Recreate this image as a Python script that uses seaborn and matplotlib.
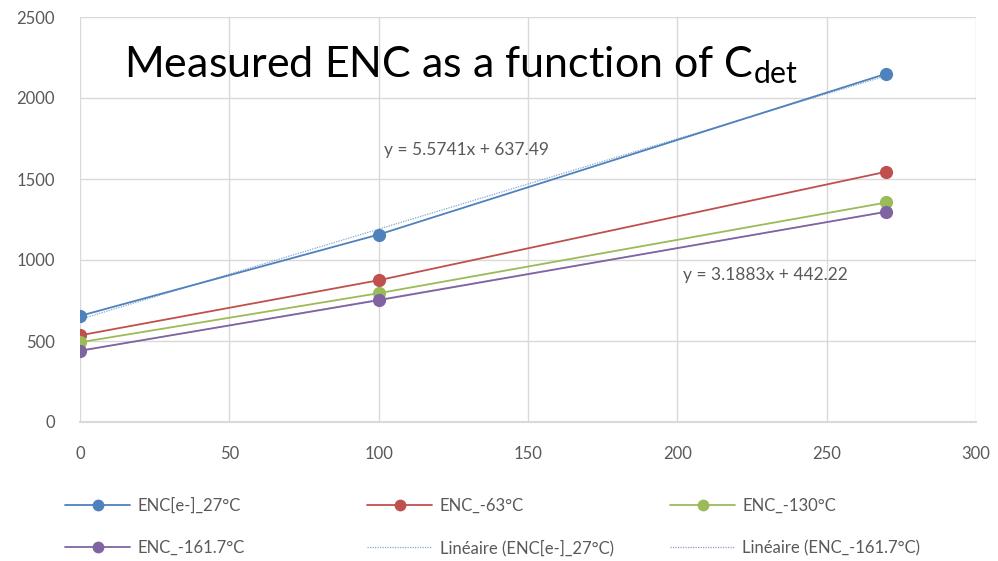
import numpy as np
import pandas as pd
import matplotlib
matplotlib.use("Agg")
import matplotlib.pyplot as plt
import seaborn as sns
from matplotlib.lines import Line2D

# ---- data ----
x_cdet = [0, 100, 270]
enc_27 = [655, 1157, 2150]
enc_m63 = [535, 875, 1545]
enc_m130 = [492, 795, 1355]
enc_m161 = [440, 752, 1298]
series_names = ["ENC[e-]_27°C", "ENC_-63°C", "ENC_-130°C", "ENC_-161.7°C"]
trend_names = ["Linéaire (ENC[e-]_27°C)", "Linéaire (ENC_-161.7°C)"]
eq_27 = "y = 5.5741x + 637.49"
eq_161 = "y = 3.1883x + 442.22"
x_ticks = [0, 50, 100, 150, 200, 250, 300]
y_ticks = [0, 500, 1000, 1500, 2000, 2500]
title_text = "Measured ENC as a function of C$_{\\mathrm{det}}$"

colors = ["#4F81BD", "#C0504D", "#9BBB59", "#8064A2"]
gray_txt = "#595959"

sns.set_theme(style="white")
plt.rcParams['font.family'] = ['Lato', 'DejaVu Sans']
plt.rcParams['mathtext.fontset'] = 'custom'
plt.rcParams['mathtext.rm'] = 'Lato'
plt.rcParams['mathtext.it'] = 'Lato'

df = pd.DataFrame({
    "x": x_cdet * 4,
    "y": enc_27 + enc_m63 + enc_m130 + enc_m161,
    "series": sum([[n] * len(x_cdet) for n in series_names], []),
})

fig = plt.figure(figsize=(9.98, 5.61), dpi=100)
ax = fig.add_axes([80 / 998, 1 - 422 / 561, (976 - 80) / 998, (422 - 17) / 561])

sns.lineplot(data=df, x="x", y="y", hue="series", hue_order=series_names,
             palette=colors, marker="o", markersize=9.5, markeredgewidth=0,
             linewidth=1.3, ax=ax, legend=False, sort=False)

# linear trendlines (dotted)
dot_style = dict(linestyle=(0, (1, 1)), linewidth=0.9, alpha=0.7)
for yv, c in [(enc_27, colors[0]), (enc_m161, colors[3])]:
    sns.regplot(x=np.array(x_cdet), y=np.array(yv), ci=None, scatter=False, ax=ax,
                line_kws=dict(color=c, **dot_style))

ax.set_xlim(0, 300)
ax.set_ylim(0, 2500)
ax.set_xticks(x_ticks)
ax.set_yticks(y_ticks)
ax.set_xlabel("")
ax.set_ylabel("")
ax.grid(True, color="#D9D9D9", linewidth=1)
ax.set_axisbelow(True)
for s in ["top", "right", "left"]:
    ax.spines[s].set_visible(False)
ax.spines["bottom"].set_color("#D9D9D9")
ax.spines["bottom"].set_linewidth(1.5)
ax.tick_params(axis="both", labelsize=12, colors=gray_txt, length=0)
ax.tick_params(axis="y", pad=18)
ax.tick_params(axis="x", pad=17)

# equations
fig.text(467 / 998, 1 - 150 / 561, eq_27, fontsize=12.5, color=gray_txt,
         ha="center", va="center")
fig.text(765 / 998, 1 - 275 / 561, eq_161, fontsize=12.5, color=gray_txt,
         ha="center", va="center")

# title
fig.text(461 / 998, 1 - 77 / 561, title_text, fontsize=31, color="black",
         ha="center", va="baseline")

# legend: three one-column legends placed like the reference
handles = [Line2D([], [], color=c, marker="o", markersize=8.5, markeredgewidth=0,
                  linewidth=1.3) for c in colors]
handles += [Line2D([], [], color=colors[0], **dot_style),
            Line2D([], [], color=colors[3], **dot_style)]
labels = series_names + trend_names
columns = [[0, 3], [1, 4], [2, 5]]
col_x = [65, 367, 670]
for cols, cx in zip(columns, col_x):
    fig.legend([handles[i] for i in cols], [labels[i] for i in cols], ncol=1,
               loc="center left", bbox_to_anchor=(cx / 998, 1 - 527 / 561),
               borderaxespad=0, borderpad=0,
               frameon=False, fontsize=12, handlelength=3.9, handletextpad=0.45,
               labelspacing=1.55, labelcolor=gray_txt)

fig.savefig("out.png", dpi=100)
